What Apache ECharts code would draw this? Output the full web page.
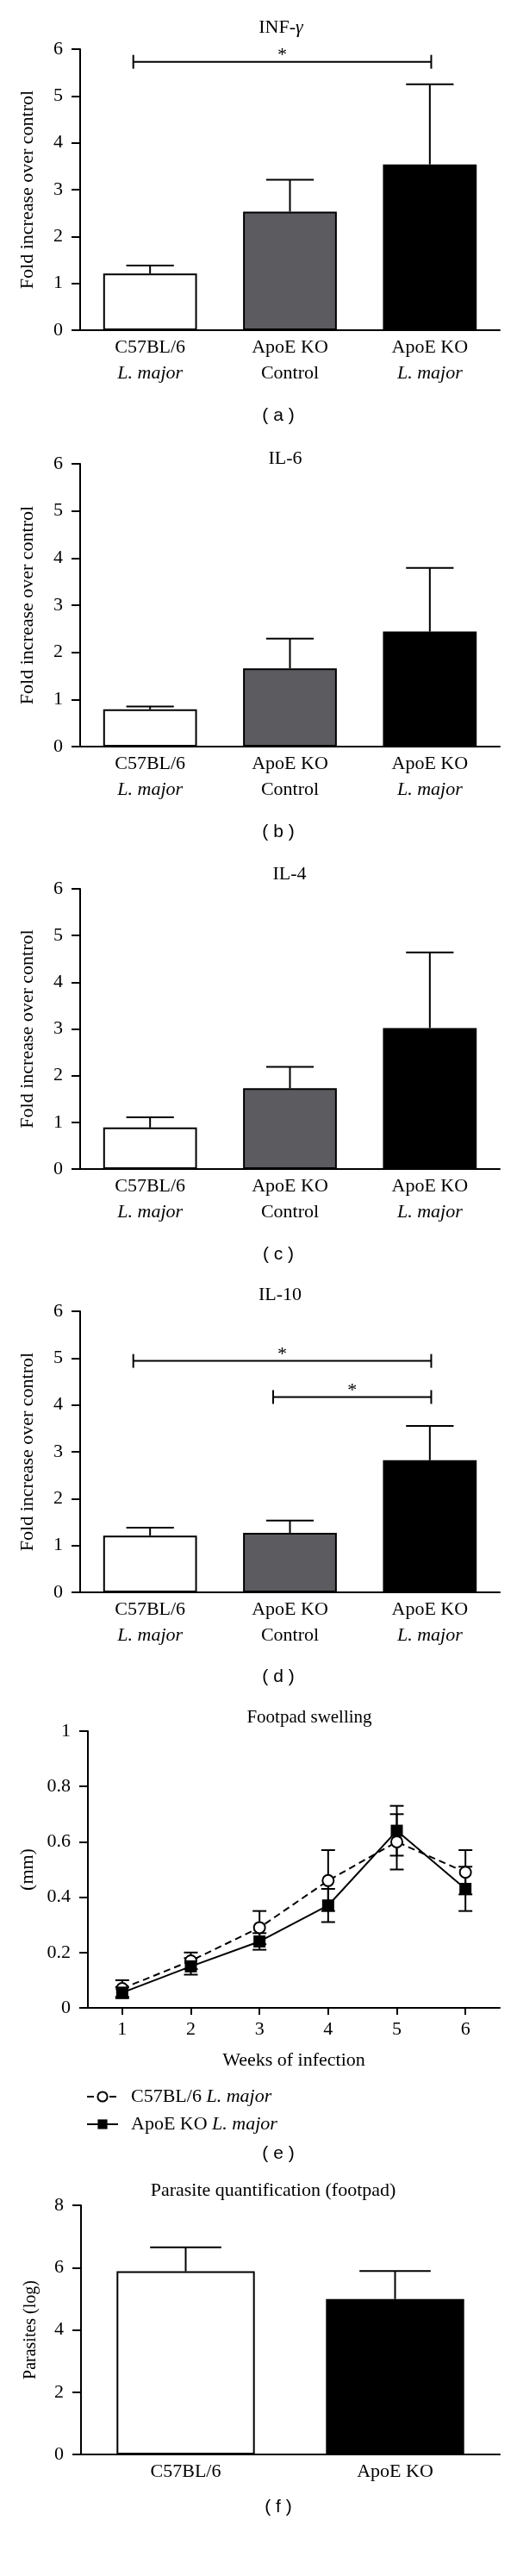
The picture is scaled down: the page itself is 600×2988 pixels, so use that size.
<!DOCTYPE html>
<html><head><meta charset="utf-8">
<script src="https://cdn.jsdelivr.net/npm/echarts@6/dist/echarts.min.js"></script>
<style>html,body{margin:0;padding:0;background:#fff}#c{width:600px;height:2988px}</style>
</head><body><div id="c"></div>
<script>
// ---------------- data ----------------
const cytokineGroups = ['C57BL/6\nL. major', 'ApoE KO\nControl', 'ApoE KO\nL. major'];
const infgMean = [1.21, 2.53, 3.54];
const infgSem  = [0.17, 0.68, 1.71];
const il6Mean  = [0.79, 1.66, 2.44];
const il6Sem   = [0.06, 0.63, 1.35];
const il4Mean  = [0.89, 1.73, 3.02];
const il4Sem   = [0.22, 0.46, 1.62];
const il10Mean = [1.21, 1.27, 2.82];
const il10Sem  = [0.17, 0.26, 0.73];
// significance brackets: [fromGroup, toGroup, height]
const infgSig = [[0, 2, 5.73]];
const il6Sig = [];
const il4Sig = [];
const il10Sig = [[0, 2, 4.94], [1, 2, 4.17]];
const cytokineAxis = { min: 0, max: 6, interval: 1 };

const weeks = ['1', '2', '3', '4', '5', '6'];
const swellingNames = ['C57BL/6 L. major', 'ApoE KO L. major'];
const c57Swelling     = [0.07, 0.17, 0.29, 0.46, 0.60, 0.49];
const c57SwellingErr  = [0.03, 0.03, 0.06, 0.11, 0.10, 0.08];
const apoeSwelling    = [0.055, 0.15, 0.24, 0.37, 0.64, 0.43];
const apoeSwellingErr = [0.02, 0.03, 0.03, 0.06, 0.09, 0.08];
const swellingAxis = { min: 0, max: 1, interval: 0.2 };

const parasiteGroups = ['C57BL/6', 'ApoE KO'];
const parasiteMean = [5.88, 4.99];
const parasiteSem  = [0.77, 0.90];
const parasiteAxis = { min: 0, max: 8, interval: 2 };

// ---------------- style ----------------
const SERIF = '"Liberation Serif","Times New Roman",serif';
const SANS = '"Liberation Sans",Arial,sans-serif';
const INK = '#000';
const barColors3 = ['#ffffff', '#5b5b60', '#000000'];
const barColors2 = ['#ffffff', '#000000'];

const grids = [], xAxes = [], yAxes = [], series = [], graphics = [];

function addText(text, x, y, size, family, rich) {
  graphics.push({
    type: 'text', x: x, y: y, silent: true, z: 10,
    style: {
      text: text, fill: INK, fontSize: size, fontFamily: family,
      align: 'center', verticalAlign: 'middle',
      textAlign: 'center', textVerticalAlign: 'middle',
      rich: rich
    }
  });
}

function ln(x1, y1, x2, y2) {
  return { type: 'line', shape: { x1: x1, y1: y1, x2: x2, y2: y2 }, style: { stroke: INK, lineWidth: 2 } };
}

function errUp(params, api) {
  const i = api.value(0), v = api.value(1), e = api.value(2);
  const p0 = api.coord([i, v]), p1 = api.coord([i, v + e]);
  const hw = api.size([1, 0])[0] * 0.17;
  return { type: 'group', children: [ln(p0[0], p0[1], p1[0], p1[1]), ln(p1[0] - hw, p1[1], p1[0] + hw, p1[1])] };
}

function errBoth(params, api) {
  const i = api.value(0), v = api.value(1), e = api.value(2);
  const lo = api.coord([i, v - e]), hi = api.coord([i, v + e]);
  const hw = 8;
  return { type: 'group', children: [
    ln(lo[0], lo[1], hi[0], hi[1]),
    ln(lo[0] - hw, lo[1], lo[0] + hw, lo[1]),
    ln(hi[0] - hw, hi[1], hi[0] + hw, hi[1])
  ] };
}

function bracket(params, api) {
  const a = api.value(0), b = api.value(1), h = api.value(2);
  const band = api.size([1, 0])[0];
  const pa = api.coord([a, h]), pb = api.coord([b, h]);
  const x1 = pa[0] - band * 0.12, x2 = pb[0] + band * 0.01, y = pa[1];
  return { type: 'group', children: [
    ln(x1, y, x2, y), ln(x1, y - 8, x1, y + 8), ln(x2, y - 8, x2, y + 8),
    { type: 'text', x: (x1 + x2) / 2, y: y + 4,
      style: { text: '*', fill: INK, fontSize: 22, fontFamily: SERIF, align: 'center', verticalAlign: 'bottom', textAlign: 'center', textVerticalAlign: 'bottom' } }
  ] };
}

const catRich = {
  n: { fontFamily: SERIF, fontSize: 22, color: INK, lineHeight: 30 },
  i: { fontFamily: SERIF, fontSize: 22, color: INK, lineHeight: 30, fontStyle: 'italic' }
};
const catFormatter = v => String(v).split('\n').map(s => s === 'L. major' ? '{i|' + s + '}' : '{n|' + s + '}').join('\n');

function yAxisCommon(k, ax, name, nameGap, nameSize) {
  return {
    gridIndex: k, type: 'value', min: ax.min, max: ax.max, interval: ax.interval,
    name: name, nameLocation: 'middle', nameGap: nameGap,
    nameTextStyle: { fontFamily: SERIF, fontSize: nameSize, color: INK },
    axisLine: { show: true, lineStyle: { color: INK, width: 2 } },
    axisTick: { show: true, length: 10, lineStyle: { color: INK, width: 2 } },
    axisLabel: { margin: 20, fontFamily: SERIF, fontSize: 22, color: INK },
    splitLine: { show: false }
  };
}

function barPanel(k, box, cats, mean, sem, sig, colors, ax, yName, nameGap, nameSize, barWidth) {
  grids.push({ left: box.left, top: box.top, width: box.width, height: box.height, containLabel: false, outerBoundsMode: 'none' });
  xAxes.push({
    gridIndex: k, type: 'category', data: cats,
    axisLine: { show: true, onZero: false, lineStyle: { color: INK, width: 2 } },
    axisTick: { show: false },
    axisLabel: { margin: 5, interval: 0, formatter: catFormatter, rich: catRich }
  });
  yAxes.push(yAxisCommon(k, ax, yName, nameGap, nameSize));
  series.push({
    type: 'bar', xAxisIndex: k, yAxisIndex: k, barWidth: barWidth, silent: true, z: 3,
    itemStyle: { borderColor: INK, borderWidth: 2 },
    data: mean.map((v, i) => ({ value: v, itemStyle: { color: colors[i] } }))
  });
  series.push({
    type: 'custom', xAxisIndex: k, yAxisIndex: k, z: 2, silent: true,
    encode: { x: 0, y: 1 }, renderItem: errUp,
    data: mean.map((v, i) => [i, v, sem[i]])
  });
  if (sig.length) {
    series.push({
      type: 'custom', xAxisIndex: k, yAxisIndex: k, z: 4, silent: true,
      encode: { x: [0, 1], y: 2 }, renderItem: bracket, data: sig
    });
  }
}

// panels (a)-(d)
const fold = 'Fold increase over control';
barPanel(0, { left: 93, top: 57, width: 487, height: 326 }, cytokineGroups, infgMean, infgSem, infgSig, barColors3, cytokineAxis, fold, 50, 22, '67%');
barPanel(1, { left: 93, top: 538, width: 487, height: 328 }, cytokineGroups, il6Mean, il6Sem, il6Sig, barColors3, cytokineAxis, fold, 50, 22, '67%');
barPanel(2, { left: 93, top: 1031, width: 487, height: 325 }, cytokineGroups, il4Mean, il4Sem, il4Sig, barColors3, cytokineAxis, fold, 50, 22, '67%');
barPanel(3, { left: 93, top: 1521, width: 487, height: 326 }, cytokineGroups, il10Mean, il10Sem, il10Sig, barColors3, cytokineAxis, fold, 50, 22, '67%');

// panel (e) line chart
grids.push({ left: 102, top: 2008, width: 478, height: 321, containLabel: false, outerBoundsMode: 'none' });
xAxes.push({
  gridIndex: 4, type: 'category', data: weeks, boundaryGap: true,
  name: 'Weeks of infection', nameLocation: 'middle', nameGap: 50,
  nameTextStyle: { fontFamily: SERIF, fontSize: 22, color: INK },
  axisLine: { show: true, onZero: false, lineStyle: { color: INK, width: 2 } },
  axisTick: { show: true, alignWithLabel: true, length: 8, lineStyle: { color: INK, width: 2 } },
  axisLabel: { margin: 14, fontFamily: SERIF, fontSize: 22, color: INK }
});
yAxes.push(yAxisCommon(4, swellingAxis, '(mm)', 57, 22));
series.push({
  type: 'custom', xAxisIndex: 4, yAxisIndex: 4, z: 2, silent: true,
  encode: { x: 0, y: 1 }, renderItem: errBoth,
  data: c57Swelling.map((v, i) => [i, v, c57SwellingErr[i]])
});
series.push({
  type: 'custom', xAxisIndex: 4, yAxisIndex: 4, z: 2, silent: true,
  encode: { x: 0, y: 1 }, renderItem: errBoth,
  data: apoeSwelling.map((v, i) => [i, v, apoeSwellingErr[i]])
});
series.push({
  type: 'line', name: swellingNames[0], xAxisIndex: 4, yAxisIndex: 4, z: 3,
  data: c57Swelling, symbol: 'emptyCircle', symbolSize: 13, showAllSymbol: true,
  lineStyle: { color: INK, width: 2, type: [8, 5] },
  itemStyle: { color: INK, borderColor: INK, borderWidth: 2 }
});
series.push({
  type: 'line', name: swellingNames[1], xAxisIndex: 4, yAxisIndex: 4, z: 4,
  data: apoeSwelling, symbol: 'rect', symbolSize: 14, showAllSymbol: true,
  lineStyle: { color: INK, width: 2, type: 'solid' },
  itemStyle: { color: INK, borderColor: INK, borderWidth: 0 }
});

// panel (f)
barPanel(5, { left: 94, top: 2558, width: 486, height: 289 }, parasiteGroups, parasiteMean, parasiteSem, [], barColors2, parasiteAxis, 'Parasites (log)', 48, 20, '66%');

// titles and panel letters
const tRich = {
  n: { fontFamily: SERIF, fontSize: 22, color: INK },
  g: { fontFamily: SERIF, fontSize: 22, color: INK, fontStyle: 'italic' }
};
addText('{n|INF-}{g|γ}', 326, 32, 22, SERIF, tRich);
addText('IL-6', 331, 532, 22, SERIF);
addText('IL-4', 336, 1014, 22, SERIF);
addText('IL-10', 325, 1502, 22, SERIF);
addText('Footpad swelling', 359, 1992, 21, SERIF);
addText('Parasite quantification (footpad)', 317, 2541, 22, SERIF);
addText('( a )', 323, 482, 21, SANS);
addText('( b )', 323, 965, 21, SANS);
addText('( c )', 323, 1455, 21, SANS);
addText('( d )', 323, 1945, 21, SANS);
addText('( e )', 323, 2498, 21, SANS);
addText('( f )', 323, 2908, 21, SANS);

const chart = echarts.init(document.getElementById('c'), null, { renderer: 'canvas', width: 600, height: 2988 });
chart.setOption({
  animation: false,
  backgroundColor: '#fff',
  textStyle: { fontFamily: SERIF, color: INK },
  grid: grids, xAxis: xAxes, yAxis: yAxes, series: series, graphic: graphics,
  legend: {
    show: true, orient: 'vertical', left: 100, top: 2421, padding: 0,
    itemWidth: 36, itemHeight: 14, itemGap: 10, selectedMode: false,
    data: swellingNames,
    formatter: name => '{n|' + name.replace(' L. major', ' ') + '}{i|L. major}',
    textStyle: {
      color: INK, fontFamily: SERIF, fontSize: 22,
      rich: {
        n: { fontFamily: SERIF, fontSize: 22, color: INK, padding: [0, 0, 0, 10] },
        i: { fontFamily: SERIF, fontSize: 22, color: INK, fontStyle: 'italic' }
      }
    }
  },
  tooltip: { show: false }
});
</script>
</body></html>
